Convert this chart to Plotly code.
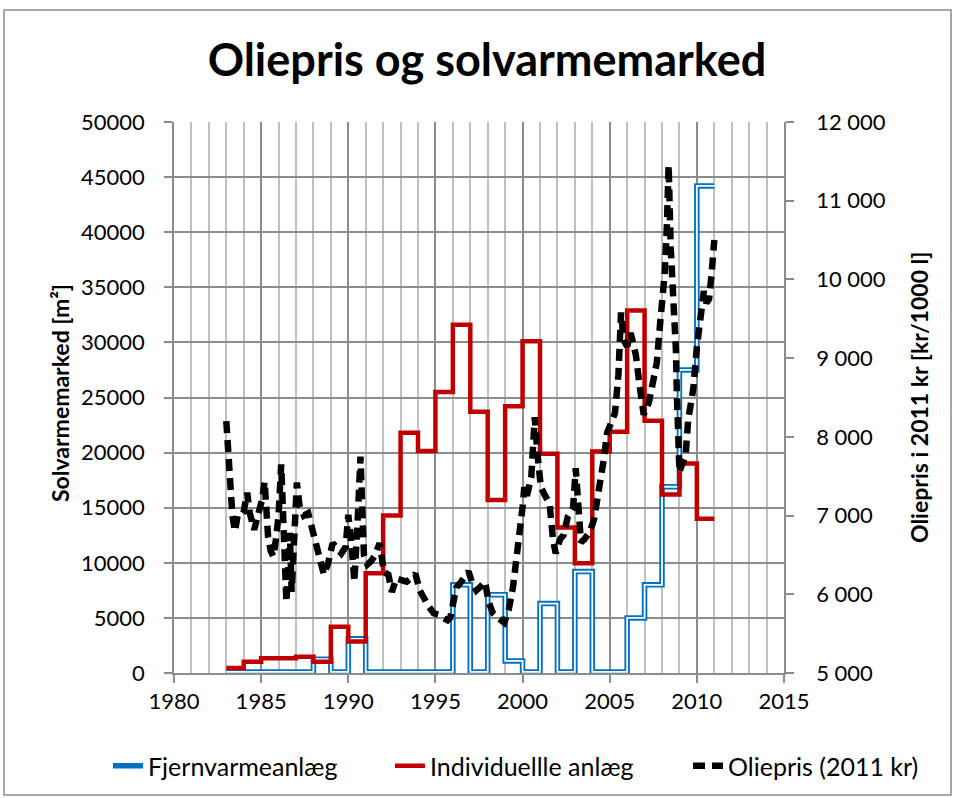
import plotly.graph_objects as go

# ---------------- data ----------------
years = list(range(1983, 2011))
fjernvarme = [100, 100, 100, 100, 100, 1250, 100, 3100, 100, 100,
              100, 100, 100, 8000, 100, 7100, 1100, 100, 6300, 100,
              9200, 100, 100, 5000, 8000, 16900, 27500, 44200]
individuelle = [450, 1030, 1330, 1330, 1480, 1030, 4200, 2850, 9050, 14300,
                21800, 20150, 25500, 31600, 23700, 15700, 24200, 30100, 19900, 13200,
                9950, 20100, 21900, 32900, 22900, 16200, 19000, 14000]

oil_time = [1983.00, 1983.10, 1983.20, 1983.35, 1983.50, 1983.65, 1983.85, 1984.00, 1984.20, 1984.35,
            1984.60, 1984.75, 1984.90, 1985.05, 1985.20, 1985.30, 1985.40, 1985.55, 1985.70, 1985.85,
            1986.00, 1986.15, 1986.25, 1986.35, 1986.45, 1986.55, 1986.65, 1986.75, 1986.85, 1987.05,
            1987.20, 1987.45, 1987.70, 1987.90, 1988.10, 1988.35, 1988.60, 1988.85, 1989.10, 1989.30,
            1989.60, 1989.85, 1990.00, 1990.20, 1990.35, 1990.55, 1990.70, 1990.80, 1990.90, 1991.10,
            1991.30, 1991.55, 1991.80, 1992.05, 1992.30, 1992.50, 1992.75, 1993.05, 1993.35, 1993.60,
            1993.85, 1994.10, 1994.30, 1994.60, 1994.90, 1995.20, 1995.45, 1995.70, 1995.85, 1996.00,
            1996.20, 1996.45, 1996.70, 1996.90, 1997.10, 1997.35, 1997.60, 1997.85, 1998.05, 1998.30,
            1998.60, 1998.95, 1999.20, 1999.45, 1999.65, 1999.85, 2000.00, 2000.10, 2000.25, 2000.50,
            2000.70, 2000.85, 2001.05, 2001.30, 2001.55, 2001.75, 2001.90, 2002.15, 2002.35, 2002.60,
            2002.90, 2003.05, 2003.20, 2003.35, 2003.55, 2003.85, 2004.10, 2004.30, 2004.50, 2004.65,
            2004.85, 2005.05, 2005.30, 2005.50, 2005.65, 2005.80, 2006.00, 2006.20, 2006.50, 2006.70,
            2006.95, 2007.25, 2007.50, 2007.70, 2007.90, 2008.15, 2008.28, 2008.38, 2008.50, 2008.62,
            2008.72, 2008.80, 2008.85, 2008.90, 2009.00, 2009.15, 2009.35, 2009.50, 2009.80, 2010.00,
            2010.25, 2010.40, 2010.55, 2010.70, 2010.85, 2011.00]
oil_price = [8200, 7770, 7410, 7000, 6800, 7000, 7000, 7050, 7290, 7030,
             6820, 6950, 7110, 7200, 7430, 7030, 6730, 6550, 6480, 6700,
             7000, 7650, 6950, 6300, 5900, 6300, 6780, 6030, 6500, 7420,
             7130, 7000, 7030, 6850, 6650, 6500, 6250, 6400, 6650, 6600,
             6520, 6600, 7010, 6600, 6160, 7000, 7750, 7100, 6500, 6380,
             6420, 6500, 6650, 6280, 6250, 6030, 6200, 6180, 6160, 6200,
             6260, 6050, 5950, 5850, 5760, 5740, 5700, 5670, 5700, 5850,
             6090, 6150, 6250, 6290, 6150, 6050, 6100, 6160, 5900, 5760,
             5700, 5640, 5800, 6090, 6460, 6780, 7110, 7360, 7250, 7490,
             8250, 7800, 7360, 7250, 7150, 6690, 6520, 6700, 6750, 6990,
             7100, 7600, 7030, 6660, 6700, 6790, 6950, 7200, 7500, 7700,
             8050, 8180, 8300, 8790, 9580, 9230, 9150, 9320, 9040, 8680,
             8280, 8440, 8700, 8940, 9460, 10060, 10670, 11450, 10400, 10000,
             9600, 9100, 8570, 8000, 7550, 7650, 7750, 8210, 8620, 9140,
             9500, 9850, 9700, 9750, 10080, 10500]

x_ticks = [1980, 1985, 1990, 1995, 2000, 2005, 2010, 2015]
y_ticks = [0, 5000, 10000, 15000, 20000, 25000, 30000, 35000, 40000, 45000, 50000]
y_ticktext = [str(v) for v in y_ticks]
y2_ticks = [5000, 6000, 7000, 8000, 9000, 10000, 11000, 12000]
y2_ticktext = ["5 000", "6 000", "7 000", "8 000", "9 000", "10 000", "11 000", "12 000"]

names = ["Fjernvarmeanlæg", "Individuellle anlæg", "Oliepris (2011 kr)"]

# step series: each year's value held through the year
step_x = years + [years[-1] + 1]
fj_y = fjernvarme + [fjernvarme[-1]]
ind_y = individuelle + [individuelle[-1]]

# ---------------- figure ----------------
W, H = 955, 798
L, R, T, B = 174, 171, 122, 125
PW, PH = W - L - R, H - T - B

def px(xp):
    return (xp - L) / PW

def py(yp):
    return (H - B - yp) / PH

GRID_MAJOR = "#8c8c8c"
GRID_MINOR = "#bfbfbf"
BLUE = "#0070C0"
RED = "#C00000"

fig = go.Figure()
fig.add_trace(go.Scatter(x=step_x, y=fj_y, mode="lines", line_shape="hv",
                         line=dict(color=BLUE, width=5.5), name=names[0],
                         legend="legend"))
fig.add_trace(go.Scatter(x=step_x, y=fj_y, mode="lines", line_shape="hv",
                         line=dict(color="white", width=1.8), showlegend=False,
                         hoverinfo="skip"))
fig.add_trace(go.Scatter(x=step_x, y=ind_y, mode="lines", line_shape="hv",
                         line=dict(color=RED, width=4.5), name=names[1],
                         legend="legend2"))
fig.add_trace(go.Scatter(x=oil_time, y=oil_price, mode="lines", yaxis="y2",
                         line=dict(color="black", width=6.5, dash="12px,7px"),
                         name=names[2], legend="legend3"))

tickfont = dict(family="Lato", size=22, color="black")
legfont = dict(family="Lato", size=25, color="black")

def leg(x_left):
    return dict(orientation="h", xref="container", x=x_left / W, xanchor="left",
                yref="container", y=1 - 766 / H, yanchor="middle", font=legfont,
                bgcolor="rgba(0,0,0,0)")

fig.update_layout(
    width=W, height=H,
    margin=dict(l=L, r=R, t=T, b=B, autoexpand=False),
    paper_bgcolor="white", plot_bgcolor="white",
    title=dict(text="<b>Oliepris og solvarmemarked</b>", x=px(487), xref="paper",
               xanchor="center", y=1 - 60 / H, yref="container", yanchor="middle",
               font=dict(family="Lato", size=45, color="black")),
    xaxis=dict(range=[1980, 2015], tickvals=x_ticks, ticks="outside", ticklen=8,
               tickcolor=GRID_MAJOR, tickwidth=1.5, showline=True, linecolor=GRID_MAJOR,
               linewidth=1.5, showgrid=True, gridcolor=GRID_MAJOR, gridwidth=1.5,
               zeroline=False, tickfont=tickfont, automargin=False,
               minor=dict(dtick=1, showgrid=True, gridcolor=GRID_MINOR, gridwidth=1.5,
                          ticks="")),
    yaxis=dict(range=[0, 50000], tickvals=y_ticks, ticktext=y_ticktext,
               ticks="outside", ticklen=8, tickcolor=GRID_MAJOR, tickwidth=1.5,
               showline=True, linecolor=GRID_MAJOR, linewidth=1.5,
               showgrid=True, gridcolor=GRID_MAJOR, gridwidth=1.5, zeroline=False,
               tickfont=tickfont, ticklabelstandoff=15, automargin=False),
    yaxis2=dict(range=[5000, 12000], tickvals=y2_ticks, ticktext=y2_ticktext,
                overlaying="y", side="right", ticks="outside", ticklen=8,
                tickcolor=GRID_MAJOR, tickwidth=1.5, showline=True,
                linecolor=GRID_MAJOR, linewidth=1.5, showgrid=False, zeroline=False,
                tickfont=tickfont, ticklabelstandoff=18, automargin=False),
    legend=leg(108),
    legend2=leg(390),
    legend3=leg(688),
    showlegend=True,
    annotations=[
        dict(text="<b>Solvarmemarked [m²]</b>", textangle=-90, x=px(60), y=py(393),
             xref="paper", yref="paper", showarrow=False, xanchor="center",
             yanchor="middle", font=dict(family="Lato", size=23, color="black")),
        dict(text="<b>Oliepris i 2011 kr [kr/1000 l]</b>", textangle=-90, x=px(919),
             y=py(397), xref="paper", yref="paper", showarrow=False,
             xanchor="center", yanchor="middle",
             font=dict(family="Lato", size=23, color="black")),
    ],
    shapes=[dict(type="rect", xref="paper", yref="paper", x0=px(4), x1=px(951),
                 y0=py(795), y1=py(10), line=dict(color=GRID_MAJOR, width=1.5),
                 fillcolor="rgba(0,0,0,0)", layer="below")],
)

fig.write_html("out.html", config={"displayModeBar": False},
               post_script="document.body.style.margin='0';document.body.style.overflow='hidden';")
